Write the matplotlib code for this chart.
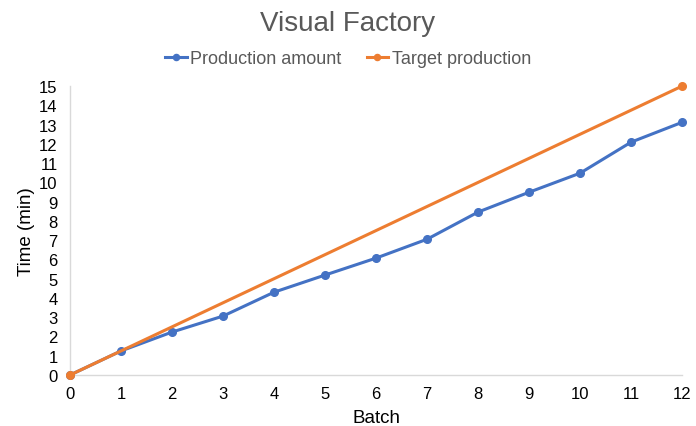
import matplotlib.pyplot as plt

plt.rcParams['font.family'] = ['Liberation Sans', 'DejaVu Sans']

# production per batch
batches = [0, 1, 2, 3, 4, 5, 6, 7, 8, 9, 10, 11, 12]
production = [0, 1.25, 2.23, 3.06, 4.3, 5.19, 6.07, 7.05, 8.46, 9.49, 10.48, 12.09, 13.12]

# target line end points
target_batches = [0, 12]
target = [0, 15]

blue = '#4472C4'
orange = '#ED7D31'

fig = plt.figure(figsize=(6.96, 4.27), dpi=100)
ax = fig.add_axes([0.1006, 0.1194, 0.8794, 0.6766])

ax.plot(batches, production, color=blue, lw=2.2, marker='o', ms=5.5,
        label='Production amount', clip_on=False, zorder=3)
ax.plot(target_batches, target, color=orange, lw=2.2, marker='o', ms=5.5,
        label='Target production', clip_on=False, zorder=4)

ax.set_xlim(0, 12)
ax.set_ylim(0, 15)
ax.set_xticks(range(0, 13))
ax.set_yticks(range(0, 16))
ax.tick_params(length=0, labelsize=12, labelcolor='#000000')
ax.tick_params(axis='x', pad=8)
ax.tick_params(axis='y', pad=9)

for side in ['top', 'right']:
    ax.spines[side].set_visible(False)
for side in ['left', 'bottom']:
    ax.spines[side].set_color('#D9D9D9')
    ax.spines[side].set_linewidth(1.0)

ax.set_xlabel('Batch', fontsize=13.5, labelpad=6)
ax.set_ylabel('Time (min)', fontsize=13.5, labelpad=3)

fig.suptitle('Visual Factory', fontsize=20, color='#595959', y=0.975)
fig.legend(loc='center', bbox_to_anchor=(0.5, 0.86), ncol=2, frameon=False,
           fontsize=13, labelcolor='#595959', handlelength=1.2,
           handletextpad=0.2, columnspacing=1.4, markerscale=0.8)

fig.savefig('out.png', dpi=100)
